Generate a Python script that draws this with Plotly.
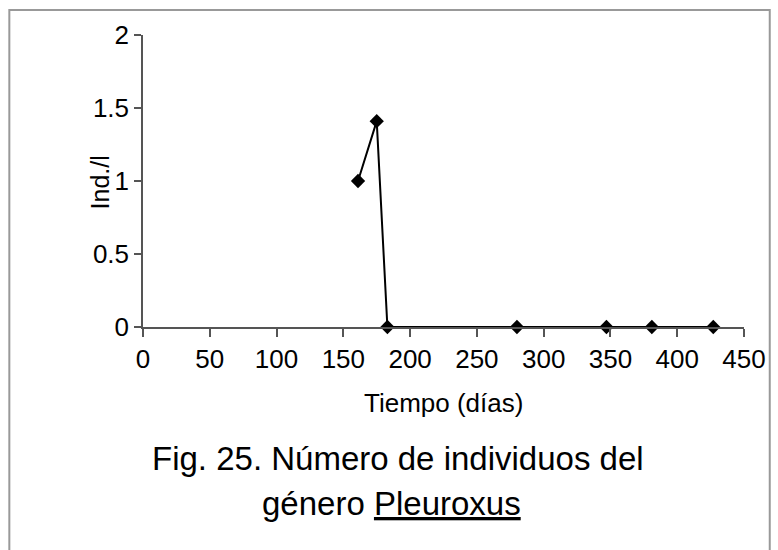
import plotly.graph_objects as go

dias = [161, 175, 183, 280, 347, 381, 427]
ind_l = [1.0, 1.41, 0.0, 0.0, 0.0, 0.0, 0.0]
x_ticks = [0, 50, 100, 150, 200, 250, 300, 350, 400, 450]
y_ticks = [0, 0.5, 1, 1.5, 2]
y_tick_text = ["0", "0.5", "1", "1.5", "2"]

W, H = 778, 550
L, R, T, B = 143, 28, 35, 223
pw, ph = W - L - R, H - T - B

def px(xp):
    return (xp - L) / pw

def py(yp):
    return (H - B - yp) / ph

FONT = "Liberation Sans, Arial, sans-serif"
AX = "#555555"

fig = go.Figure()
fig.add_trace(go.Scatter(
    x=dias, y=ind_l, mode="lines+markers",
    line=dict(color="black", width=2),
    marker=dict(symbol="diamond", size=11, color="black"),
    showlegend=False, cliponaxis=False,
))

fig.update_layout(
    width=W, height=H,
    margin=dict(l=L, r=R, t=T, b=B, pad=0),
    paper_bgcolor="white", plot_bgcolor="white",
    font=dict(family=FONT, color="black"),
    xaxis=dict(range=[0, 450], tickvals=x_ticks, showgrid=False, zeroline=False,
               showline=True, linecolor=AX, linewidth=1.5,
               ticks="outside", ticklen=8, tickcolor=AX, tickwidth=1.5,
               tickfont=dict(size=26, family=FONT), fixedrange=True),
    yaxis=dict(range=[0, 2], tickvals=y_ticks, ticktext=y_tick_text,
               showgrid=False, zeroline=False,
               showline=True, linecolor=AX, linewidth=1.5,
               ticks="outside", ticklen=7, tickcolor=AX, tickwidth=1.5,
               tickfont=dict(size=26, family=FONT), fixedrange=True),
    shapes=[dict(type="rect", xref="paper", yref="paper",
                 x0=px(8), x1=px(776), y0=py(570), y1=py(10),
                 line=dict(color="#999999", width=2))],
    annotations=[
        dict(text="Ind./l", xref="paper", yref="paper", x=px(100), y=py(182),
             textangle=-90, showarrow=False, font=dict(size=25, family=FONT),
             xanchor="center", yanchor="middle"),
        dict(text="Tiempo (días)", xref="paper", yref="paper", x=px(447), y=py(403),
             showarrow=False, font=dict(size=26, family=FONT),
             xanchor="center", yanchor="middle"),
        dict(text="Fig. 25. Número de individuos del", xref="paper", yref="paper",
             x=px(401), y=py(458), showarrow=False, font=dict(size=33, family=FONT),
             xanchor="center", yanchor="middle"),
        dict(text="género <u>Pleuroxus</u>", xref="paper", yref="paper",
             x=px(394), y=py(503), showarrow=False, font=dict(size=33, family=FONT),
             xanchor="center", yanchor="middle"),
    ],
)

fig.write_html("out.html")
